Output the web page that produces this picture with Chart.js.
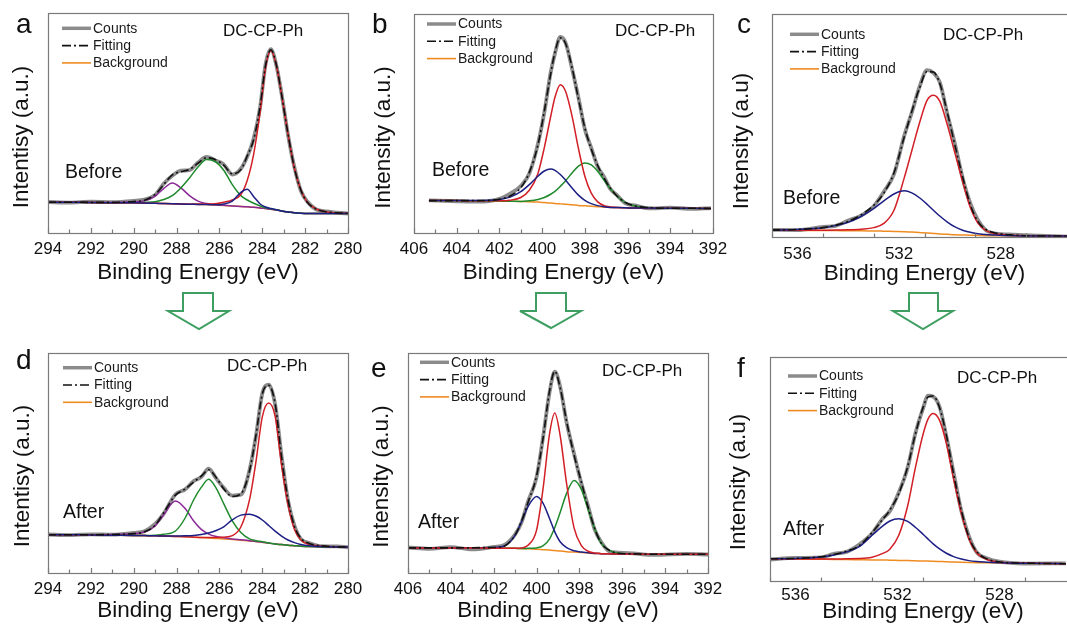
<!DOCTYPE html>
<html>
<head>
<meta charset="utf-8">
<script src="https://cdn.jsdelivr.net/npm/chart.js@4.4.0/dist/chart.umd.min.js"></script>
<style>
  html, body { margin: 0; padding: 0; background: #fff; width: 1067px; height: 630px; overflow: hidden; position: relative; }
  canvas, svg { position: absolute; left: 0; top: 0; }
</style>
</head>
<body>
<canvas id="pa" width="1100" height="630"></canvas>
<canvas id="pb" width="1100" height="630"></canvas>
<canvas id="pc" width="1100" height="630"></canvas>
<canvas id="pd" width="1100" height="630"></canvas>
<canvas id="pe" width="1100" height="630"></canvas>
<canvas id="pf" width="1100" height="630"></canvas>
<svg width="1067" height="630">
  <g fill="#fff" stroke="#3f9f63" stroke-width="2" stroke-linejoin="miter">
    <polygon points="183,293 213,293 213,311 229,311 199,329 168,311 183,311"/>
    <polygon points="536,293 566,293 566,311 581,311 551,328 520,311 536,311"/>
    <polygon points="909,293 938,293 938,311 953,311 923,329 893,311 909,311"/>
  </g>
</svg>
<script>
const FONT = '"Liberation Sans", Arial, Helvetica, sans-serif';

// ---- a: C 1s, before ----
const aEnergy = [294, 293, 292, 291, 290, 289.5, 289, 288.6, 288.2, 287.8, 287.4, 287, 286.6, 286.2, 285.8, 285.4, 285, 284.7, 284.4, 284.1, 283.85, 283.6, 283.35, 283.1, 282.8, 282.5, 282.2, 281.9, 281.5, 281, 280];
const aCounts = [14.1, 13.8, 14.2, 14.0, 14.6, 15.2, 17.3, 22.4, 26.0, 28.3, 28.6, 32.0, 34.6, 33.0, 31.2, 26.6, 29.2, 34.8, 43.0, 57.3, 76.5, 83.6, 76.4, 63.3, 44.6, 29.8, 19.2, 14.3, 10.8, 9.8, 8.8];
const aFit    = [14.0, 14.0, 13.9, 13.9, 14.3, 14.9, 17.5, 22.0, 26.4, 27.8, 28.9, 31.7, 34.2, 33.4, 30.8, 26.9, 28.8, 35.1, 42.6, 57.7, 76.1, 83.3, 76.7, 63.0, 45.0, 29.5, 19.5, 14.0, 11.0, 9.6, 9.0];
const aBg     = [14.0, 14.0, 13.9, 13.8, 13.7, 13.6, 13.5, 13.4, 13.3, 13.2, 13.1, 13.0, 12.9, 12.7, 12.5, 12.3, 12.1, 11.9, 11.7, 11.4, 11.1, 10.8, 10.5, 10.0, 9.5, 9.2, 9.0, 8.9, 8.9, 8.9, 8.9];
const aRed    = [14.0, 14.0, 13.9, 13.8, 13.7, 13.6, 13.5, 13.4, 13.3, 13.2, 13.1, 13.2, 13.2, 13.3, 14.0, 15.0, 17.5, 24.0, 36.0, 55.0, 75.0, 82.8, 76.5, 63.0, 45.0, 29.5, 19.5, 14.0, 11.0, 9.6, 9.0];
const aGreen  = [14.0, 14.0, 13.9, 13.8, 13.8, 13.9, 14.2, 15.2, 17.0, 20.5, 25.0, 30.0, 33.4, 32.5, 28.5, 22.0, 17.0, 15.0, 13.5, 12.3, 11.5, 11.0, 10.6, 10.0, 9.5, 9.2, 9.0, 8.9, 8.9, 8.9, 8.9];
const aBlue   = [14.0, 14.0, 13.9, 13.8, 13.7, 13.6, 13.5, 13.4, 13.3, 13.2, 13.1, 13.0, 12.9, 12.8, 13.2, 14.5, 18.5, 19.9, 16.5, 13.2, 11.8, 11.1, 10.6, 10.0, 9.5, 9.2, 9.0, 8.9, 8.9, 8.9, 8.9];
const aPurple = [14.0, 14.0, 13.9, 13.9, 14.2, 14.6, 16.8, 20.2, 22.7, 20.5, 17.0, 14.5, 13.4, 12.9, 12.6, 12.3, 12.1, 11.9, 11.7, 11.4, 11.1, 10.8, 10.5, 10.0, 9.5, 9.2, 9.0, 8.9, 8.9, 8.9, 8.9];

// ---- b: N 1s, before ----
const bEnergy = [405.3, 404, 403, 402, 401.5, 401, 400.6, 400.2, 399.9, 399.6, 399.4, 399.15, 398.9, 398.6, 398.3, 398, 397.7, 397.4, 397.1, 396.8, 396.5, 396.1, 395.6, 395, 394, 393, 392.1];
const bCounts = [14.9, 14.5, 14.3, 15.6, 18.0, 21.5, 27.2, 40.6, 55.0, 73.3, 82.0, 89.5, 86.8, 75.0, 61.8, 47.4, 38.9, 30.4, 25.6, 20.0, 17.3, 13.5, 12.5, 11.2, 11.6, 11.0, 11.4];
const bFit    = [14.8, 14.8, 14.8, 15.4, 16.9, 20.7, 27.7, 40.1, 55.6, 72.7, 82.6, 89.1, 86.4, 75.6, 61.2, 48.0, 38.3, 30.9, 25.0, 20.4, 16.9, 13.9, 12.2, 11.6, 11.3, 11.3, 11.2];
const bBg     = [14.8, 14.8, 14.7, 14.6, 14.5, 14.4, 14.3, 14.1, 13.9, 13.7, 13.5, 13.3, 13.1, 12.9, 12.6, 12.4, 12.2, 12.0, 11.8, 11.7, 11.6, 11.5, 11.4, 11.4, 11.3, 11.3, 11.2];
const bRed    = [14.8, 14.8, 14.7, 14.7, 15.0, 16.2, 19.5, 27.1, 38.9, 53.2, 62.0, 67.7, 64.6, 53.4, 38.6, 25.9, 18.2, 14.2, 12.5, 11.9, 11.6, 11.5, 11.4, 11.4, 11.3, 11.3, 11.2];
const bGreen  = [14.8, 14.8, 14.7, 14.6, 14.5, 14.4, 14.7, 15.3, 16.2, 17.7, 19.0, 21.3, 23.9, 27.4, 30.5, 32.0, 31.1, 28.2, 24.1, 20.2, 16.9, 13.9, 12.2, 11.6, 11.3, 11.3, 11.2];
const bBlue   = [14.8, 14.8, 14.8, 15.3, 16.4, 18.9, 22.1, 25.9, 28.3, 29.2, 28.6, 26.7, 24.1, 20.6, 17.3, 14.9, 13.4, 12.5, 12.0, 11.7, 11.6, 11.5, 11.4, 11.4, 11.3, 11.3, 11.2];

// ---- c: O 1s, before ----
const cEnergy = [537, 536, 535, 534.5, 534, 533.5, 533, 532.6, 532.2, 531.8, 531.5, 531.2, 530.9, 530.65, 530.4, 530.1, 529.8, 529.5, 529.2, 528.9, 528.6, 528.2, 527.5, 526.5, 525.3];
const cCounts = [3.2, 3.1, 4.5, 5.0, 7.4, 9.6, 13.8, 20.3, 28.2, 45.3, 55.8, 67.2, 74.8, 73.6, 69.4, 55.1, 41.6, 26.5, 15.2, 7.6, 3.2, 1.5, 1.1, 0.6, 0.2];
const cFit    = [3.1, 3.4, 4.2, 5.3, 7.0, 9.9, 14.2, 19.7, 28.8, 44.7, 56.3, 66.6, 74.2, 74.0, 68.9, 55.7, 41.0, 27.0, 14.6, 7.0, 3.5, 1.8, 0.9, 0.5, 0.4];
const cBg     = [3.0, 3.0, 2.9, 2.9, 2.8, 2.8, 2.7, 2.6, 2.5, 2.4, 2.2, 2.0, 1.8, 1.6, 1.4, 1.2, 1.0, 0.9, 0.8, 0.7, 0.6, 0.6, 0.5, 0.4, 0.4];
const cRed    = [3.0, 3.0, 3.0, 3.1, 3.2, 3.5, 4.2, 6.1, 12.0, 26.4, 38.7, 51.0, 61.3, 63.6, 60.9, 50.2, 37.5, 24.9, 13.3, 6.2, 3.0, 1.5, 0.8, 0.5, 0.4];
const cBlue   = [3.1, 3.4, 4.1, 5.1, 6.6, 9.2, 12.7, 16.2, 19.3, 20.7, 19.8, 17.6, 14.7, 12.0, 9.4, 6.7, 4.5, 3.0, 2.1, 1.5, 1.1, 0.9, 0.6, 0.4, 0.4];

// ---- d: C 1s, after ----
const dEnergy = [294, 293, 292, 291, 290, 289.5, 289, 288.6, 288.05, 287.6, 287.2, 286.85, 286.5, 286.15, 285.8, 285.4, 285, 284.6, 284.3, 284, 283.7, 283.4, 283.1, 282.8, 282.5, 282.2, 281.8, 281.3, 280.5, 280];
const dCounts = [17.5, 17.2, 17.6, 17.4, 18.2, 19.0, 22.3, 27.0, 35.8, 38.0, 41.8, 43.6, 47.4, 43.0, 38.7, 35.2, 35.6, 46.6, 62.0, 81.6, 85.6, 76.6, 53.2, 33.0, 21.6, 15.5, 13.6, 12.2, 12.1, 11.7];
const dFit    = [17.4, 17.4, 17.4, 17.5, 17.9, 18.7, 21.7, 27.4, 35.4, 38.2, 41.4, 44.0, 46.9, 43.4, 38.3, 34.8, 36.0, 46.2, 62.3, 81.3, 85.3, 77.0, 52.8, 33.5, 21.3, 15.8, 13.4, 12.4, 11.9, 11.8];
const dBg     = [17.4, 17.4, 17.3, 17.2, 17.1, 17.0, 16.9, 16.8, 16.6, 16.5, 16.3, 16.1, 15.9, 15.7, 15.5, 15.2, 14.9, 14.6, 14.3, 14.0, 13.6, 13.2, 12.9, 12.6, 12.4, 12.2, 12.0, 11.9, 11.8, 11.8];
const dRed    = [17.4, 17.4, 17.3, 17.2, 17.1, 17.0, 16.9, 16.8, 16.6, 16.5, 16.3, 16.1, 16.1, 16.1, 16.3, 17.0, 20.9, 33.1, 50.3, 71.0, 77.3, 71.2, 48.9, 31.1, 19.9, 15.0, 13.0, 12.3, 11.9, 11.8];
const dGreen  = [17.4, 17.4, 17.3, 17.2, 17.1, 17.1, 17.2, 17.6, 19.1, 25.0, 33.3, 38.9, 42.6, 38.5, 31.5, 23.7, 18.4, 15.5, 14.7, 14.2, 13.6, 13.2, 12.9, 12.6, 12.4, 12.2, 12.0, 11.9, 11.8, 11.8];
const dBlue   = [17.4, 17.4, 17.3, 17.2, 17.1, 17.0, 16.9, 16.8, 16.8, 16.9, 17.1, 17.5, 18.2, 19.3, 21.0, 24.2, 26.3, 26.7, 25.9, 24.1, 21.6, 19.0, 16.8, 15.0, 13.8, 13.0, 12.4, 12.0, 11.8, 11.8];
const dPurple = [17.4, 17.4, 17.4, 17.5, 17.9, 18.6, 21.4, 26.6, 32.7, 29.3, 23.6, 19.8, 17.7, 16.6, 16.0, 15.5, 15.1, 14.7, 14.3, 14.0, 13.6, 13.2, 12.9, 12.6, 12.4, 12.2, 12.0, 11.9, 11.8, 11.8];

// ---- e: N 1s, after ----
const eEnergy = [406, 405, 404, 403, 402, 401.5, 401, 400.7, 400.4, 400, 399.7, 399.4, 399.15, 398.9, 398.6, 398.25, 397.9, 397.6, 397.3, 397, 396.6, 396.2, 395.5, 394.5, 393, 392];
const eCounts = [11.6, 11.0, 11.8, 10.7, 11.9, 12.8, 17.6, 23.0, 32.5, 43.6, 61.5, 81.8, 91.5, 84.7, 68.5, 54.2, 40.4, 30.6, 20.1, 14.3, 9.8, 9.3, 8.9, 8.2, 8.7, 8.4];
const eFit    = [11.4, 11.4, 11.4, 11.5, 11.6, 12.3, 17.3, 23.6, 32.0, 44.1, 61.0, 82.4, 91.7, 84.2, 69.0, 53.6, 41.0, 30.0, 20.6, 13.8, 10.3, 9.0, 8.7, 8.5, 8.5, 8.5];
const eBg     = [11.4, 11.4, 11.4, 11.4, 11.3, 11.3, 11.2, 11.1, 11.0, 10.8, 10.6, 10.4, 10.2, 10.0, 9.7, 9.5, 9.3, 9.1, 8.9, 8.8, 8.7, 8.6, 8.6, 8.5, 8.5, 8.5];
const eRed    = [11.4, 11.4, 11.4, 11.4, 11.3, 11.3, 11.3, 11.4, 12.6, 19.5, 38.1, 62.9, 72.7, 62.5, 40.7, 20.5, 12.3, 9.9, 9.1, 8.8, 8.7, 8.6, 8.6, 8.5, 8.5, 8.5];
const eGreen  = [11.4, 11.4, 11.4, 11.4, 11.3, 11.3, 11.2, 11.1, 11.2, 11.4, 12.3, 15.4, 20.7, 27.5, 36.2, 42.0, 37.8, 29.1, 20.4, 13.8, 10.3, 9.0, 8.7, 8.5, 8.5, 8.5];
const eBlue   = [11.4, 11.4, 11.4, 11.5, 11.6, 12.3, 17.2, 23.3, 30.2, 34.8, 31.8, 24.9, 18.7, 14.2, 11.5, 10.1, 9.5, 9.2, 8.9, 8.8, 8.7, 8.6, 8.6, 8.5, 8.5, 8.5];

// ---- f: O 1s, after ----
const fEnergy = [537, 536, 535, 534.5, 534, 533.5, 533, 532.6, 532.3, 531.95, 531.6, 531.3, 531, 530.8, 530.6, 530.35, 530.1, 529.8, 529.5, 529.2, 528.9, 528.5, 528, 527, 525.4];
const fCounts = [9.6, 10.3, 10.5, 12.1, 13.0, 16.3, 21.2, 27.6, 31.2, 39.5, 50.7, 65.9, 77.0, 82.8, 82.3, 77.7, 65.5, 48.4, 31.4, 20.0, 12.9, 10.2, 8.6, 7.8, 7.9];
const fFit    = [9.9, 10.1, 10.8, 11.8, 13.3, 15.8, 21.6, 27.2, 31.7, 39.0, 51.1, 65.5, 77.4, 82.2, 82.6, 77.3, 66.0, 47.9, 31.8, 19.6, 13.2, 9.9, 8.5, 8.0, 7.7];
const fBg     = [9.8, 9.8, 9.7, 9.6, 9.6, 9.5, 9.4, 9.4, 9.3, 9.2, 9.1, 9.0, 8.9, 8.9, 8.8, 8.7, 8.6, 8.5, 8.4, 8.3, 8.2, 8.1, 8.0, 7.9, 7.7];
const fRed    = [9.8, 9.8, 9.8, 9.8, 9.9, 10.0, 10.6, 12.2, 14.2, 20.4, 33.6, 50.5, 65.4, 72.4, 74.8, 71.7, 62.1, 45.5, 30.4, 18.8, 12.7, 9.6, 8.4, 8.0, 7.7];
const fBlue   = [9.9, 10.1, 10.7, 11.6, 13.0, 15.3, 20.4, 24.4, 26.8, 27.8, 26.6, 24.0, 20.9, 18.7, 16.6, 14.3, 12.5, 10.9, 9.8, 9.1, 8.7, 8.4, 8.1, 7.9, 7.7];

// tick labels
const c1sTicks = [294, 292, 290, 288, 286, 284, 282, 280];
const n1sTicks = [406, 404, 402, 400, 398, 396, 394, 392];
const o1sTicks = [536, 532, 528];

const COL = {
  counts: '#8b8b8b', fit: '#111111', bg: '#ee8c22',
  red: '#d21f26', green: '#1f8a2c', blue: '#1c1f84', purple: '#8a2a97'
};

// frame, inward ticks, legend and labels
const panelDeco = {
  id: 'panelDeco',
  afterDraw(chart, args, o) {
    const ctx = chart.ctx, a = chart.chartArea, xs = chart.scales.x;
    ctx.save();
    ctx.strokeStyle = '#7a7a7a';
    ctx.lineWidth = 1.2;
    for (let v = xs.min; v <= xs.max + 1e-6; v += o.minor) {
      const px = Math.round(xs.getPixelForValue(v)) + 0.5;
      const len = o.majors.includes(v) ? 5 : 3.5;
      ctx.beginPath();
      ctx.moveTo(px, a.bottom);
      ctx.lineTo(px, a.bottom - len);
      ctx.stroke();
    }
    ctx.strokeRect(a.left + 0.5, a.top + 0.5, a.right - a.left, a.bottom - a.top);

    // legend
    const rows = [
      {t: 'Counts', c: COL.counts, w: 3.5, d: []},
      {t: 'Fitting', c: COL.fit, w: 1.6, d: [9, 3, 2, 3]},
      {t: 'Background', c: COL.bg, w: 1.6, d: []}
    ];
    ctx.textBaseline = 'middle';
    ctx.textAlign = 'left';
    rows.forEach((r, i) => {
      const y = o.legend.y + i * 17.3;
      ctx.beginPath();
      ctx.setLineDash(r.d);
      ctx.lineWidth = r.w;
      ctx.strokeStyle = r.c;
      ctx.moveTo(o.legend.x, y);
      ctx.lineTo(o.legend.x + 29, y);
      ctx.stroke();
      ctx.setLineDash([]);
      ctx.fillStyle = '#1a1a1a';
      ctx.font = '14px ' + FONT;
      ctx.fillText(r.t, o.legend.x + 31, y + 0.5);
    });

    ctx.fillStyle = '#111';
    ctx.font = '17px ' + FONT;
    ctx.fillText('DC-CP-Ph', o.sample.x, o.sample.y);
    ctx.font = '19.5px ' + FONT;
    ctx.fillText(o.tag.t, o.tag.x, o.tag.y);

    ctx.textBaseline = 'alphabetic';
    ctx.font = '28px ' + FONT;
    ctx.fillText(o.letter.t, o.letter.x, o.letter.y);

    // y title
    ctx.save();
    ctx.translate(o.ytitle.x, o.ytitle.y);
    ctx.rotate(-Math.PI / 2);
    ctx.textAlign = 'center';
    ctx.textBaseline = 'middle';
    ctx.font = '22.5px ' + FONT;
    ctx.fillText(o.ytitle.t, 0, 0);
    ctx.restore();
    ctx.restore();
  }
};

function line(pts, color, width, order, dash) {
  return {
    data: pts, borderColor: color, borderWidth: width, borderDash: dash || [],
    pointRadius: 0, fill: false, cubicInterpolationMode: 'monotone', order: order
  };
}

function makePanel(id, p) {
  const pts = vals => p.energy.map((e, i) => ({x: e, y: vals[i]}));
  const sets = [line(pts(p.fit), COL.fit, 1.6, 0, [8, 3, 2, 3])];
  p.peaks.forEach((pk, i) => sets.push(line(pts(pk[0]), pk[1], 1.5, i + 1)));
  sets.push(line(pts(p.bg), COL.bg, 1.5, 8));
  sets.push(line(pts(p.counts), COL.counts, 3.8, 9));

  const b = p.box;
  new Chart(document.getElementById(id), {
    type: 'line',
    data: {datasets: sets},
    options: {
      responsive: false,
      animation: false,
      events: [],
      layout: {padding: {left: b.l, top: b.t, right: 1100 - b.r, bottom: 630 - b.b - p.axisH}},
      plugins: {
        legend: {display: false},
        tooltip: {enabled: false},
        panelDeco: p.deco
      },
      scales: {
        x: {
          type: 'linear',
          reverse: true,
          min: p.min,
          max: p.max,
          afterBuildTicks: s => { s.ticks = p.ticks.map(v => ({value: v})); },
          afterFit: s => { s.height = p.axisH; },
          grid: {display: false, drawTicks: false},
          border: {display: false},
          ticks: {color: '#111', padding: p.tickPad, maxRotation: 0, autoSkip: false, font: {size: 17, family: FONT}},
          title: {display: true, text: 'Binding Energy (eV)', color: '#111', padding: 0, font: {size: 22.5, family: FONT}}
        },
        y: {display: false, min: 0, max: 100}
      }
    },
    plugins: [panelDeco]
  });
}

makePanel('pa', {
  energy: aEnergy, counts: aCounts, fit: aFit, bg: aBg,
  peaks: [[aBlue, COL.blue], [aRed, COL.red], [aGreen, COL.green], [aPurple, COL.purple]],
  min: 280, max: 294, ticks: c1sTicks, box: {l: 48, t: 13, r: 348, b: 233}, axisH: 53, tickPad: 6,
  deco: {minor: 1, majors: c1sTicks, legend: {x: 62, y: 28.3}, sample: {x: 223, y: 31.7},
    tag: {t: 'Before', x: 65, y: 172.7}, letter: {t: 'a', x: 16, y: 33}, ytitle: {t: 'Intentisy (a.u.)', x: 22, y: 137}}
});
makePanel('pb', {
  energy: bEnergy, counts: bCounts, fit: bFit, bg: bBg,
  peaks: [[bBlue, COL.blue], [bRed, COL.red], [bGreen, COL.green]],
  min: 392, max: 406, ticks: n1sTicks, box: {l: 414, t: 14, r: 713, b: 233}, axisH: 53.5, tickPad: 6,
  deco: {minor: 1, majors: n1sTicks, legend: {x: 427, y: 24}, sample: {x: 615, y: 31.7},
    tag: {t: 'Before', x: 432, y: 171}, letter: {t: 'b', x: 372, y: 33}, ytitle: {t: 'Intensity (a.u.)', x: 384, y: 137.5}}
});
makePanel('pc', {
  energy: cEnergy, counts: cCounts, fit: cFit, bg: cBg,
  peaks: [[cBlue, COL.blue], [cRed, COL.red]],
  min: 525, max: 537, ticks: o1sTicks, box: {l: 772, t: 14, r: 1077, b: 237}, axisH: 50.5, tickPad: 7,
  deco: {minor: 2, majors: o1sTicks, legend: {x: 790, y: 34.3}, sample: {x: 943, y: 35},
    tag: {t: 'Before', x: 783, y: 199}, letter: {t: 'c', x: 737, y: 33}, ytitle: {t: 'Intensity (a.u)', x: 742, y: 141}}
});
makePanel('pd', {
  energy: dEnergy, counts: dCounts, fit: dFit, bg: dBg,
  peaks: [[dBlue, COL.blue], [dRed, COL.red], [dGreen, COL.green], [dPurple, COL.purple]],
  min: 280, max: 294, ticks: c1sTicks, box: {l: 48, t: 353, r: 348, b: 573}, axisH: 51.3, tickPad: 6,
  deco: {minor: 1, majors: c1sTicks, legend: {x: 63, y: 367.7}, sample: {x: 227, y: 366.7},
    tag: {t: 'After', x: 63, y: 512.7}, letter: {t: 'd', x: 16, y: 369}, ytitle: {t: 'Intentisy (a.u.)', x: 23, y: 476}}
});
makePanel('pe', {
  energy: eEnergy, counts: eCounts, fit: eFit, bg: eBg,
  peaks: [[eRed, COL.red], [eBlue, COL.blue], [eGreen, COL.green]],
  min: 392, max: 406, ticks: n1sTicks, box: {l: 408, t: 353, r: 708, b: 573}, axisH: 51.5, tickPad: 6,
  deco: {minor: 1, majors: n1sTicks, legend: {x: 420, y: 362.3}, sample: {x: 602, y: 371.7},
    tag: {t: 'After', x: 418, y: 522.7}, letter: {t: 'e', x: 371, y: 377}, ytitle: {t: 'Intensity (a.u.)', x: 382, y: 476.5}}
});
makePanel('pf', {
  energy: fEnergy, counts: fCounts, fit: fFit, bg: fBg,
  peaks: [[fBlue, COL.blue], [fRed, COL.red]],
  min: 525, max: 537, ticks: o1sTicks, box: {l: 770, t: 357, r: 1076, b: 581}, axisH: 44.2, tickPad: 4,
  deco: {minor: 2, majors: o1sTicks, legend: {x: 788, y: 376}, sample: {x: 957, y: 378.3},
    tag: {t: 'After', x: 783, y: 530}, letter: {t: 'f', x: 737, y: 377}, ytitle: {t: 'Intensity (a.u)', x: 739, y: 482}}
});
</script>
</body>
</html>
